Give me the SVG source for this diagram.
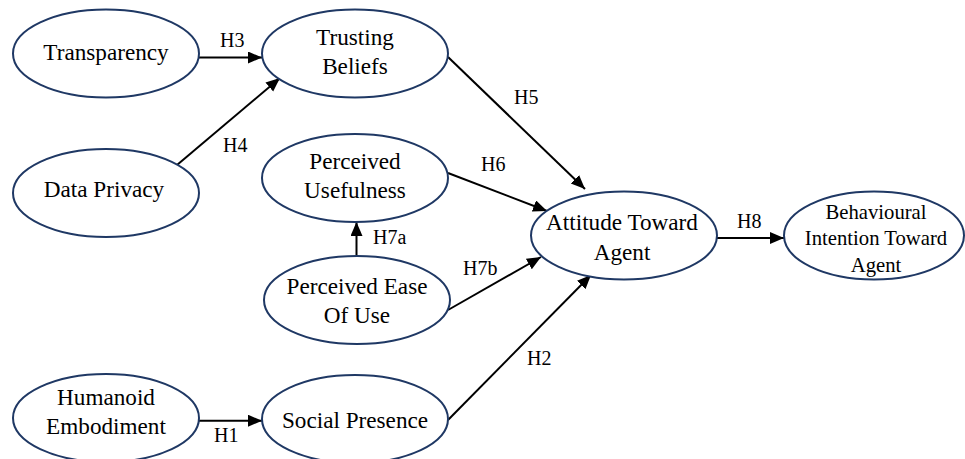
<svg xmlns="http://www.w3.org/2000/svg" width="965" height="459" viewBox="0 0 965 459">
<defs>
<marker id="arr" markerUnits="userSpaceOnUse" markerWidth="16" markerHeight="14" refX="14" refY="6" orient="auto">
<path d="M0,0 L14,6 L0,12 Z" fill="#000"/>
</marker>
<style>
ellipse{fill:#fff;stroke:#1f3864;stroke-width:2}
line{stroke:#000;stroke-width:2;marker-end:url(#arr)}
</style>
</defs>
<rect width="965" height="459" fill="#fff"/>
<g id="connectors">
<line x1="199" y1="57.5" x2="262" y2="57.5"/>
<line x1="177" y1="165" x2="280" y2="78"/>
<line x1="448" y1="57" x2="585" y2="189"/>
<line x1="448" y1="173" x2="547" y2="211"/>
<line x1="356.5" y1="255" x2="356.5" y2="222"/>
<line x1="448" y1="310" x2="541" y2="257"/>
<line x1="448" y1="420" x2="591" y2="275"/>
<line x1="199" y1="420.7" x2="262" y2="420.7"/>
<line x1="717" y1="238" x2="784" y2="238"/>
</g>
<g id="labels" font-family="Liberation Serif, serif" font-size="20" fill="#000">
<text x="220" y="47">H3</text>
<text x="223" y="152">H4</text>
<text x="514" y="104">H5</text>
<text x="481" y="171">H6</text>
<text x="373" y="244">H7a</text>
<text x="463" y="275">H7b</text>
<text x="527" y="365">H2</text>
<text x="214" y="442">H1</text>
<text x="737" y="228">H8</text>
</g>
<g font-family="Liberation Serif, serif" font-size="23.2" fill="#000" text-anchor="middle">
<g id="transparency">
<ellipse cx="106" cy="53.5" rx="93" ry="44"/>
<text x="106" y="60">Transparency</text>
</g>
<g id="trusting-beliefs">
<ellipse cx="355" cy="53.5" rx="93" ry="44"/>
<text x="355" y="45">Trusting</text>
<text x="355" y="74">Beliefs</text>
</g>
<g id="data-privacy">
<ellipse cx="106" cy="193" rx="93" ry="44"/>
<text x="104" y="197">Data Privacy</text>
</g>
<g id="perceived-usefulness">
<ellipse cx="355" cy="178" rx="93" ry="44"/>
<text x="355" y="168.5">Perceived</text>
<text x="355" y="197.5">Usefulness</text>
</g>
<g id="perceived-ease">
<ellipse cx="357" cy="300" rx="93" ry="44"/>
<text x="357" y="293.5">Perceived Ease</text>
<text x="357" y="322.5">Of Use</text>
</g>
<g id="attitude">
<ellipse cx="624" cy="235.5" rx="93" ry="44"/>
<text x="622" y="230">Attitude Toward</text>
<text x="622" y="259.5">Agent</text>
</g>
<g id="behavioural-intention" font-size="20.7">
<ellipse cx="874" cy="235.5" rx="90" ry="44"/>
<text x="876" y="218.5">Behavioural</text>
<text x="876" y="245">Intention Toward</text>
<text x="876" y="271.5">Agent</text>
</g>
<g id="humanoid-embodiment">
<ellipse cx="106" cy="418" rx="93" ry="44"/>
<text x="106" y="405">Humanoid</text>
<text x="106" y="433.5">Embodiment</text>
</g>
<g id="social-presence">
<ellipse cx="355" cy="419" rx="93" ry="44"/>
<text x="355" y="427.5">Social Presence</text>
</g>
</g>
</svg>
